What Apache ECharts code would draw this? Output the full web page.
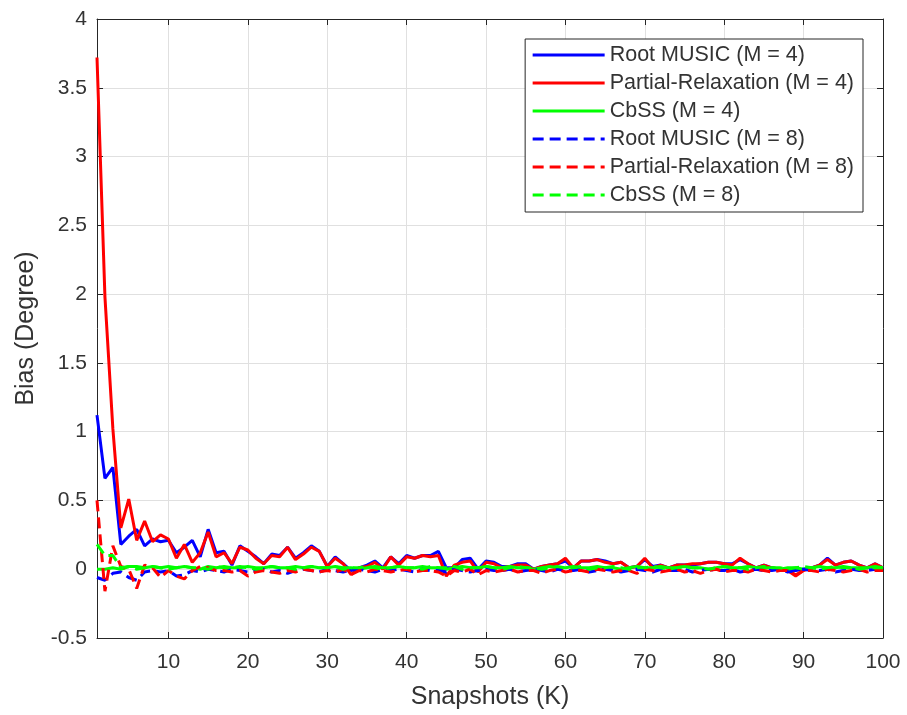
<!DOCTYPE html>
<html>
<head>
<meta charset="utf-8">
<script src="https://cdn.jsdelivr.net/npm/echarts/dist/echarts.min.js"></script>
<style>
html,body{margin:0;padding:0;background:#fff;}
#chart{width:907px;height:715px;}
</style>
</head>
<body>
<div id="chart"></div>
<script>
const snapshots = Array.from({length: 100}, (_, i) => i + 1);

const rootMusicM4 = [1.12,0.66,0.74,0.18,0.24,0.29,0.17,0.22,0.20,0.21,
  0.12,0.16,0.21,0.09,0.29,0.12,0.13,0.03,0.17,0.13,
  0.09,0.04,0.11,0.10,0.16,0.08,0.12,0.17,0.13,0.02,
  0.09,0.04,-0.01,0.01,0.03,0.06,0.01,0.09,0.04,0.10,
  0.08,0.10,0.10,0.13,0.01,0.01,0.07,0.08,0.00,0.06,
  0.05,0.02,0.02,0.04,0.04,0.00,0.02,0.03,0.04,0.06,
  0.01,0.06,0.06,0.07,0.06,0.04,0.05,0.01,0.02,0.07,
  0.02,0.03,0.01,0.03,0.03,0.03,0.04,0.05,0.05,0.04,
  0.04,0.07,0.04,0.01,0.03,0.01,0.00,-0.01,-0.01,0.00,
  0.01,0.03,0.08,0.03,0.05,0.06,0.03,0.01,0.04,0.01];

const partialRelaxM4 = [3.72,1.98,1.02,0.30,0.51,0.21,0.35,0.20,0.25,0.22,
  0.08,0.18,0.05,0.12,0.27,0.09,0.12,0.04,0.16,0.14,
  0.08,0.04,0.10,0.09,0.16,0.07,0.11,0.16,0.13,0.02,
  0.08,0.04,-0.04,0.01,0.02,0.05,0.00,0.09,0.03,0.09,
  0.08,0.10,0.09,0.10,-0.05,0.03,0.05,0.06,-0.02,0.05,
  0.04,0.01,0.02,0.03,0.03,0.00,0.02,0.03,0.04,0.08,
  0.01,0.06,0.06,0.07,0.05,0.04,0.05,0.01,0.02,0.08,
  0.01,0.03,0.01,0.03,0.03,0.04,0.04,0.05,0.05,0.04,
  0.03,0.08,0.04,0.01,0.03,0.01,0.00,-0.01,-0.05,-0.01,
  0.01,0.03,0.07,0.03,0.05,0.06,0.03,0.01,0.04,0.01];

const cbssM4 = [0.00,0.00,0.01,0.00,0.02,0.02,0.01,0.02,0.01,0.02,
  0.01,0.02,0.01,0.00,0.02,0.01,0.02,0.01,0.01,0.02,
  0.01,0.01,0.02,0.01,0.01,0.02,0.01,0.02,0.01,0.01,
  0.02,0.01,0.01,0.00,0.01,0.02,0.01,0.01,0.02,0.01,
  0.01,0.02,0.01,0.01,0.00,0.01,0.02,0.01,0.01,0.02,
  0.01,0.01,0.02,0.01,0.01,0.00,0.01,0.02,0.01,0.01,
  0.02,0.01,0.01,0.02,0.01,0.01,0.00,0.01,0.02,0.01,
  0.01,0.02,0.01,0.01,0.02,0.01,0.01,0.00,0.01,0.02,
  0.01,0.01,0.02,0.01,0.01,0.01,0.00,0.01,0.01,0.00,
  0.01,0.02,0.01,0.01,0.02,0.01,0.01,0.01,0.02,0.01];

const rootMusicM8 = [-0.06,-0.08,-0.03,-0.02,-0.06,-0.08,-0.02,-0.01,-0.02,-0.01,
  -0.05,-0.04,-0.01,-0.02,0.00,-0.01,-0.02,0.00,-0.01,-0.02,
  -0.01,0.00,-0.02,-0.01,-0.03,-0.01,0.00,-0.01,-0.02,0.00,
  -0.01,-0.02,-0.01,0.00,-0.01,-0.02,0.00,-0.01,0.00,-0.01,
  -0.02,0.00,-0.01,-0.01,-0.02,0.00,-0.01,-0.02,-0.01,0.00,
  -0.01,-0.01,0.00,-0.02,-0.01,0.00,-0.01,-0.02,0.00,-0.01,
  -0.01,0.00,-0.02,-0.01,0.00,-0.01,-0.02,-0.01,0.00,-0.01,
  -0.02,0.00,-0.01,-0.01,0.00,-0.02,-0.01,0.00,-0.01,-0.01,
  0.00,-0.02,-0.01,0.00,-0.01,-0.01,0.00,-0.02,-0.01,0.00,
  -0.01,-0.01,0.00,-0.02,-0.01,0.00,-0.01,-0.01,0.00,-0.01];

const partialRelaxM8 = [0.50,-0.16,0.17,0.02,0.00,-0.14,0.03,0.01,-0.06,-0.01,
  -0.05,-0.07,-0.01,0.02,0.01,-0.01,-0.01,-0.02,-0.01,-0.05,
  -0.02,-0.01,-0.02,-0.03,-0.01,-0.02,0.00,-0.01,-0.02,-0.01,
  -0.02,0.00,-0.04,-0.01,-0.02,0.00,-0.01,-0.02,-0.01,0.00,
  -0.02,-0.01,-0.01,-0.02,-0.05,-0.01,-0.02,0.00,-0.04,-0.01,
  -0.02,-0.01,0.00,-0.02,-0.01,-0.01,-0.03,-0.01,0.00,-0.02,
  -0.01,-0.01,-0.02,0.00,-0.01,-0.02,-0.01,-0.01,-0.03,0.00,
  -0.01,-0.02,-0.01,0.00,-0.02,-0.01,-0.03,-0.01,0.00,-0.02,
  -0.01,-0.01,-0.02,0.00,-0.01,-0.02,-0.01,-0.01,-0.04,-0.01,
  -0.01,-0.02,0.00,-0.01,-0.02,-0.01,0.00,-0.02,-0.01,-0.01];

const cbssM8 = [0.18,0.10,0.10,0.01,0.02,0.00,0.01,0.02,0.01,0.00,
  0.01,0.02,0.01,0.01,0.00,0.02,0.01,0.01,0.02,0.01,
  0.00,0.01,0.02,0.01,0.01,0.00,0.01,0.02,0.01,0.01,
  0.02,0.00,0.01,0.01,0.02,0.01,0.00,0.01,0.02,0.01,
  0.01,0.00,0.02,0.01,0.01,0.02,0.00,0.01,0.01,0.02,
  0.01,0.00,0.01,0.02,0.01,0.01,0.00,0.01,0.02,0.01,
  0.01,0.02,0.00,0.01,0.01,0.02,0.01,0.00,0.01,0.01,
  0.02,0.01,0.00,0.01,0.02,0.01,0.01,0.00,0.01,0.02,
  0.01,0.01,0.00,0.01,0.02,0.01,0.01,0.00,0.01,0.02,
  0.01,0.00,0.01,0.02,0.01,0.01,0.00,0.01,0.01,0.01];

const seriesNames = ['Root MUSIC (M = 4)','Partial-Relaxation (M = 4)','CbSS (M = 4)',
  'Root MUSIC (M = 8)','Partial-Relaxation (M = 8)','CbSS (M = 8)'];
const seriesData = [rootMusicM4, partialRelaxM4, cbssM4, rootMusicM8, partialRelaxM8, cbssM8];
const seriesColors = ['#0000ff','#ff0000','#00ff00','#0000ff','#ff0000','#00ff00'];
const seriesDashed = [false,false,false,true,true,true];

const FONT = 'Liberation Sans, Arial, sans-serif';
const TXT = '#333333';
const AX = '#262626';

const chart = echarts.init(document.getElementById('chart'), null, {renderer: 'canvas'});

const series = seriesNames.map((name, s) => ({
  name,
  type: 'line',
  xAxisIndex: 0,
  yAxisIndex: 0,
  data: snapshots.map((k, i) => [k, seriesData[s][i]]),
  symbol: 'none',
  showSymbol: false,
  smooth: false,
  animation: false,
  color: seriesColors[s],
  lineStyle: {
    color: seriesColors[s],
    width: 3,
    type: seriesDashed[s] ? [11, 6] : 'solid'
  },
  itemStyle: { color: seriesColors[s] }
}));

const option = {
  animation: false,
  backgroundColor: '#ffffff',
  textStyle: { fontFamily: FONT },
  grid: {
    left: 97, right: 24, top: 19, bottom: 76,
    containLabel: false,
    show: false
  },
  legend: {
    orient: 'vertical',
    right: 44,
    top: 39,
    padding: [5, 9, 6, 6],
    itemWidth: 72,
    itemHeight: 14,
    itemGap: 6,
    backgroundColor: '#ffffff',
    borderColor: AX,
    borderWidth: 1,
    borderRadius: 0,
    itemStyle: { opacity: 0 },
    lineStyle: { width: 3 },
    textStyle: { fontFamily: FONT, fontSize: 21.5, color: TXT, lineHeight: 22 },
    data: seriesNames
  },
  xAxis: [{
    type: 'value',
    min: 1, max: 100,
    splitNumber: 10,
    name: 'Snapshots (K)',
    nameLocation: 'middle',
    nameGap: 47,
    nameTextStyle: { fontFamily: FONT, fontSize: 25, color: TXT },
    axisLine: { show: true, onZero: false, lineStyle: { color: AX, width: 1 } },
    axisTick: { show: true, inside: true, length: 6, lineStyle: { color: AX } },
    axisLabel: { show: true, showMinLabel: false, margin: 14, fontFamily: FONT, fontSize: 21, color: TXT },
    splitLine: { show: true, lineStyle: { color: '#e0e0e0', width: 1 } }
  }, {
    type: 'value',
    position: 'top',
    min: 1, max: 100,
    splitNumber: 10,
    axisLine: { show: true, onZero: false, lineStyle: { color: AX, width: 1 } },
    axisTick: { show: true, inside: true, length: 6, lineStyle: { color: AX } },
    axisLabel: { show: false },
    splitLine: { show: false }
  }],
  yAxis: [{
    type: 'value',
    min: -0.5, max: 4,
    interval: 0.5,
    name: 'Bias (Degree)',
    nameLocation: 'middle',
    nameGap: 58,
    nameTextStyle: { fontFamily: FONT, fontSize: 25, color: TXT },
    axisLine: { show: true, onZero: false, lineStyle: { color: AX, width: 1 } },
    axisTick: { show: true, inside: true, length: 6, lineStyle: { color: AX } },
    axisLabel: { show: true, margin: 10, fontFamily: FONT, fontSize: 21, color: TXT },
    splitLine: { show: true, lineStyle: { color: '#e0e0e0', width: 1 } }
  }, {
    type: 'value',
    position: 'right',
    min: -0.5, max: 4,
    interval: 0.5,
    axisLine: { show: true, onZero: false, lineStyle: { color: AX, width: 1 } },
    axisTick: { show: true, inside: true, length: 6, lineStyle: { color: AX } },
    axisLabel: { show: false },
    splitLine: { show: false }
  }],
  series
};

chart.setOption(option);
</script>
</body>
</html>
